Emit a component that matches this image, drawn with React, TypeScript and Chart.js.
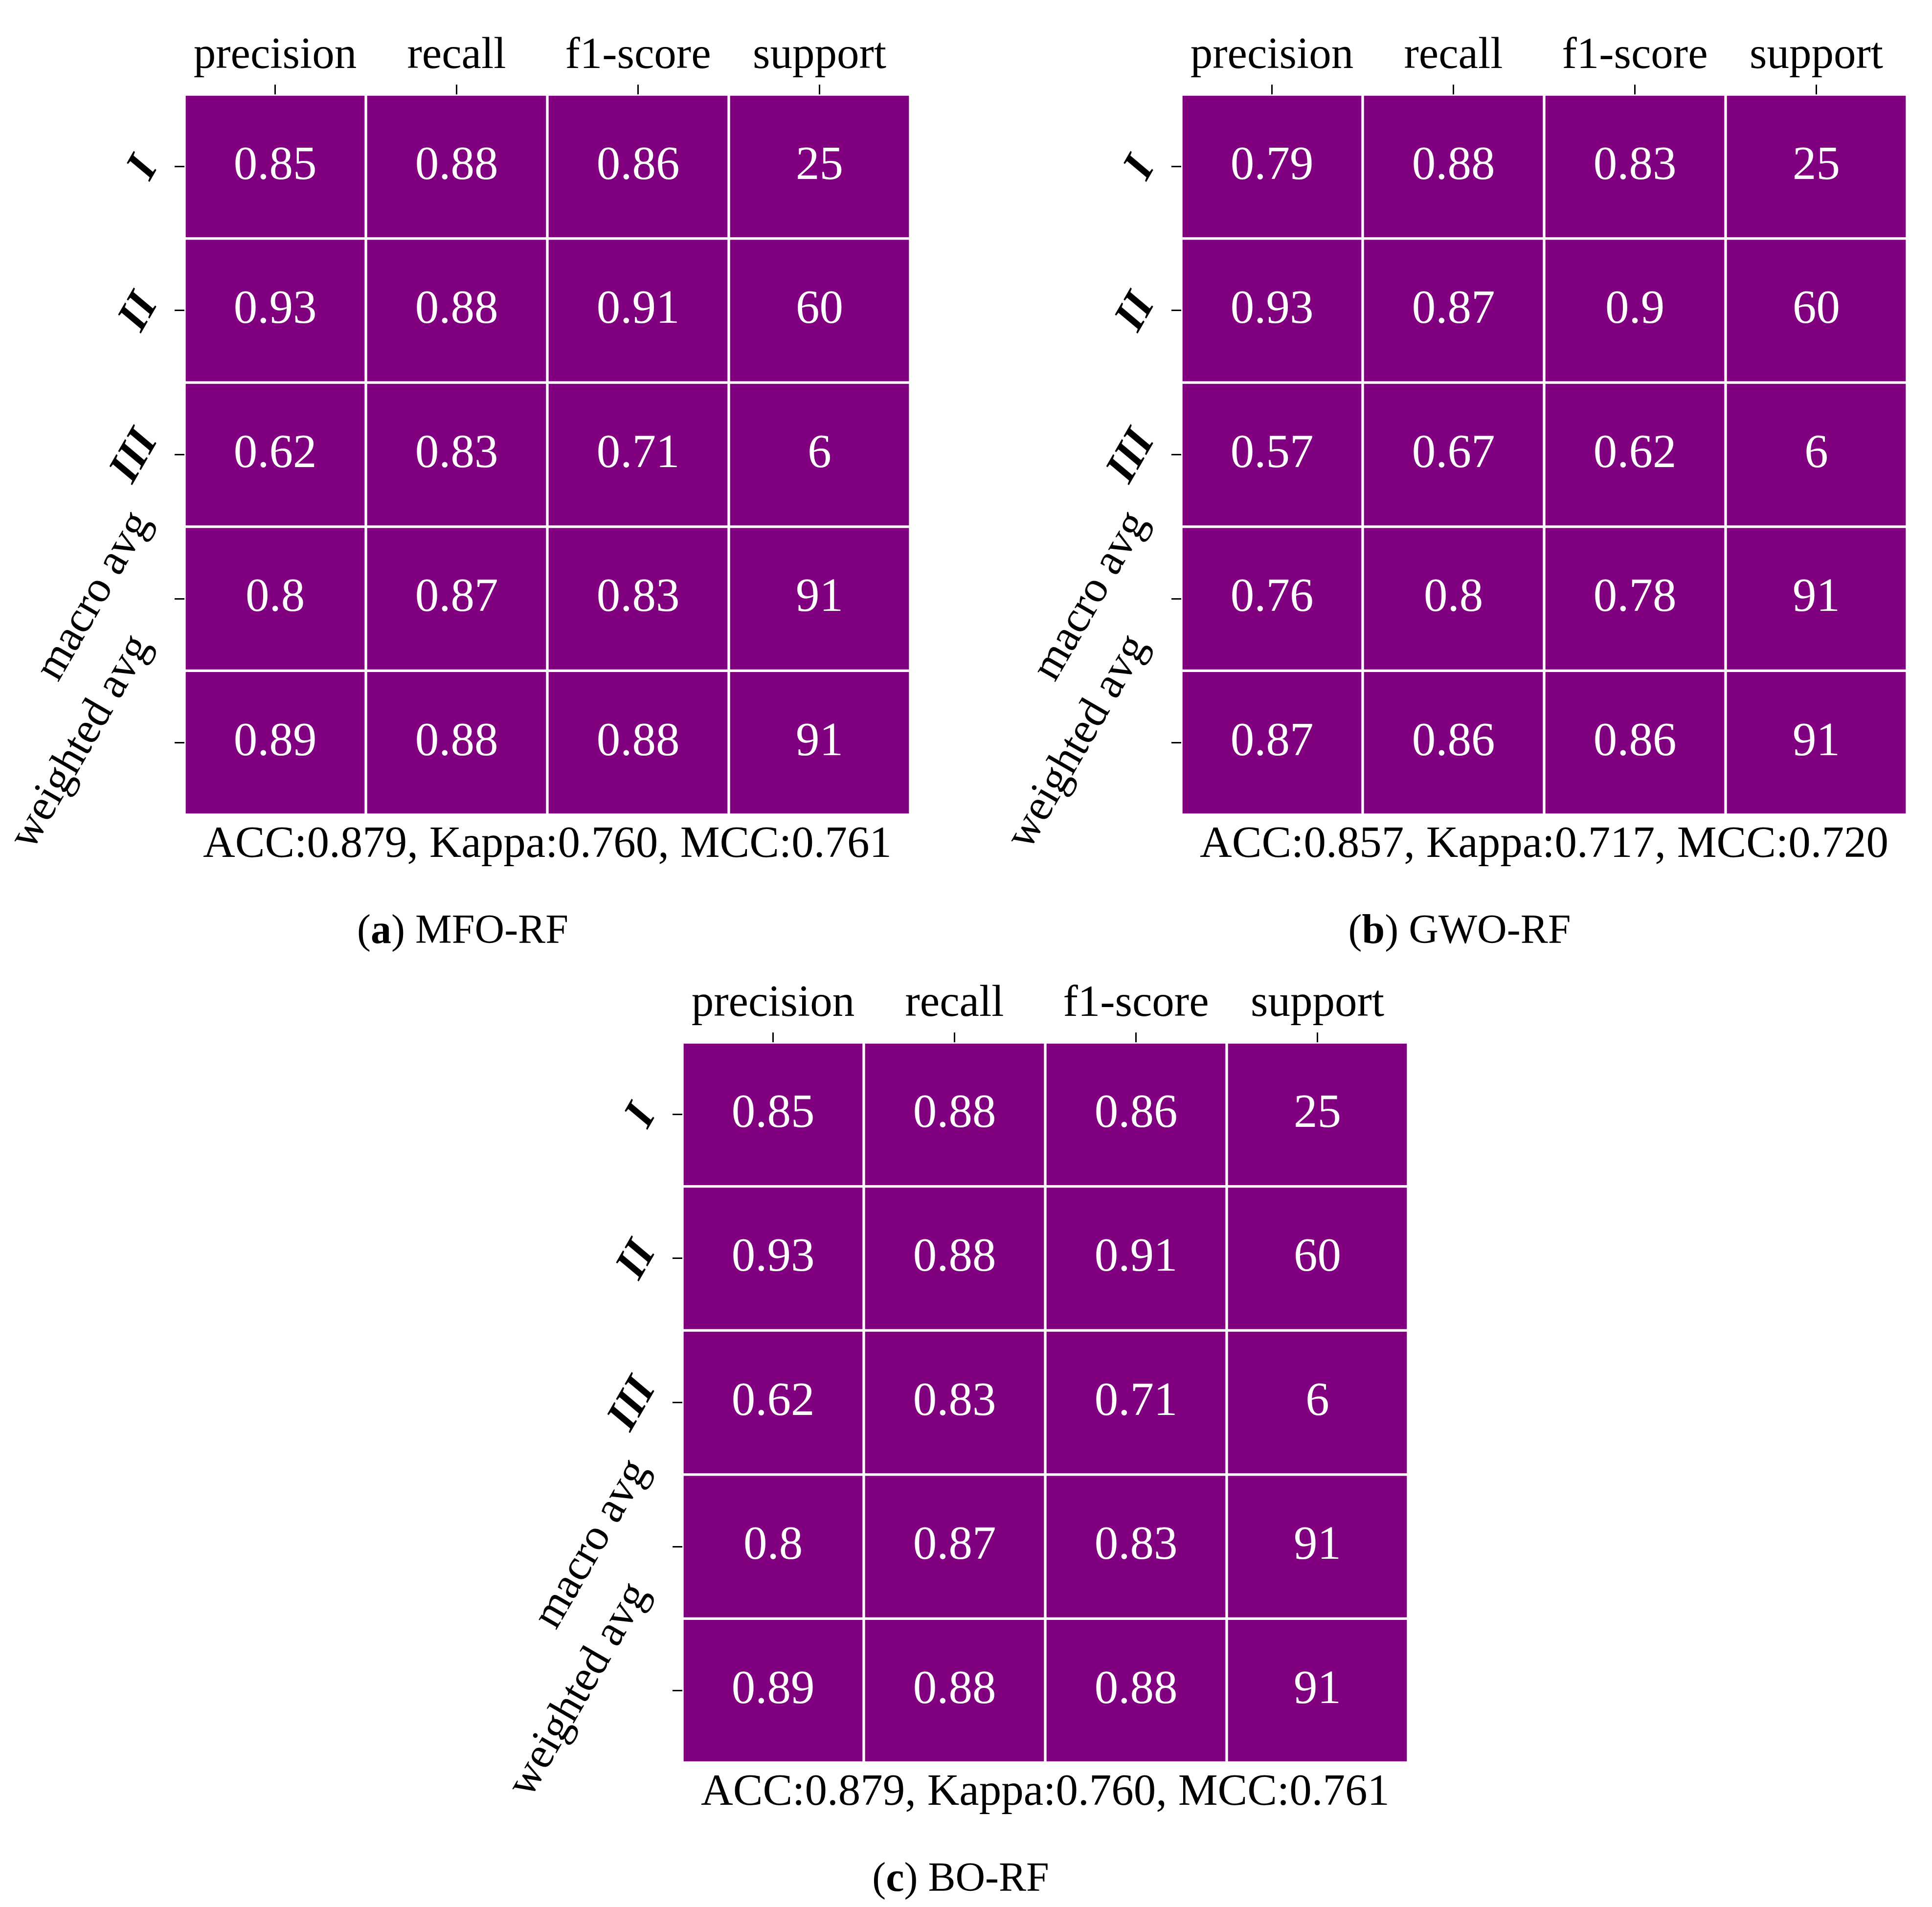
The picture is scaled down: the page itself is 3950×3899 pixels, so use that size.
import React, { useEffect, useRef } from 'react';
import { Chart, registerables } from 'chart.js';

Chart.register(...registerables);

// ---------- data ----------
const COLUMNS = ['precision', 'recall', 'f1-score', 'support'];
const ROWS = ['I', 'II', 'III', 'macro avg', 'weighted avg'];
const METRIC_NAMES = ['ACC', 'Kappa', 'MCC'];

// (a) MFO-RF
const MFO_I = [0.85, 0.88, 0.86, 25];
const MFO_II = [0.93, 0.88, 0.91, 60];
const MFO_III = [0.62, 0.83, 0.71, 6];
const MFO_MACRO = [0.8, 0.87, 0.83, 91];
const MFO_WEIGHTED = [0.89, 0.88, 0.88, 91];
const MFO_METRICS = [0.879, 0.76, 0.761];

// (b) GWO-RF
const GWO_I = [0.79, 0.88, 0.83, 25];
const GWO_II = [0.93, 0.87, 0.9, 60];
const GWO_III = [0.57, 0.67, 0.62, 6];
const GWO_MACRO = [0.76, 0.8, 0.78, 91];
const GWO_WEIGHTED = [0.87, 0.86, 0.86, 91];
const GWO_METRICS = [0.857, 0.717, 0.72];

// (c) BO-RF
const BO_I = [0.85, 0.88, 0.86, 25];
const BO_II = [0.93, 0.88, 0.91, 60];
const BO_III = [0.62, 0.83, 0.71, 6];
const BO_MACRO = [0.8, 0.87, 0.83, 91];
const BO_WEIGHTED = [0.89, 0.88, 0.88, 91];
const BO_METRICS = [0.879, 0.76, 0.761];

const PANEL_LETTERS = ['a', 'b', 'c'];
const PANEL_NAMES = ['MFO-RF', 'GWO-RF', 'BO-RF'];
const PANEL_ROWS = [
  [MFO_I, MFO_II, MFO_III, MFO_MACRO, MFO_WEIGHTED],
  [GWO_I, GWO_II, GWO_III, GWO_MACRO, GWO_WEIGHTED],
  [BO_I, BO_II, BO_III, BO_MACRO, BO_WEIGHTED],
];
const PANEL_METRICS = [MFO_METRICS, GWO_METRICS, BO_METRICS];

// ---------- layout / style ----------
const PANEL_POS = [
  { left: 0, top: 0 },
  { left: 2038, top: 0 },
  { left: 1018, top: 1938 },
];
const CANVAS_W = 1890;
const CANVAS_H = 1816;
const Y_AXIS_W = 377;
const X_AXIS_H = 193;
const PAD_RIGHT = 29;
const PAD_BOTTOM = 150;
const CELL_COLOR = '#800080';
const FONT = '"Liberation Serif", "Times New Roman", serif';
const LABEL_SIZE = 91;
const CELL_SIZE = 97;
const CAPTION_SIZE = 84;
const THETA = (60 * Math.PI) / 180;

const textPlugin = {
  id: 'heatText',
  afterDatasetsDraw(chart: any) {
    const ctx = chart.ctx;
    ctx.save();
    ctx.fillStyle = '#ffffff';
    ctx.font = `${CELL_SIZE}px ${FONT}`;
    ctx.textAlign = 'center';
    ctx.textBaseline = 'alphabetic';
    chart.data.datasets.forEach((ds: any, di: number) => {
      const meta = chart.getDatasetMeta(di);
      meta.data.forEach((el: any, j: number) => {
        const p = el.getProps(['x', 'y', 'base'], true);
        const cy = (p.y + p.base) / 2;
        ctx.fillText(String(ds.values[j]), p.x, cy + CELL_SIZE * 0.26);
      });
    });
    ctx.restore();
  },
  afterDraw(chart: any, _args: any, opts: any) {
    const ctx = chart.ctx;
    const area = chart.chartArea;
    const yScale = chart.scales.y;
    ctx.save();
    ctx.fillStyle = '#000000';
    // rotated row labels
    ROWS.forEach((lab, i) => {
      const ty = yScale.getPixelForValue(i + 0.5);
      const bold = i < 3;
      ctx.font = `${bold ? 'italic bold ' : ''}${LABEL_SIZE}px ${FONT}`;
      ctx.textAlign = 'left';
      ctx.textBaseline = 'alphabetic';
      const m = ctx.measureText(lab);
      const l = m.actualBoundingBoxLeft;
      const r = m.actualBoundingBoxRight;
      const a = m.actualBoundingBoxAscent;
      const d = m.actualBoundingBoxDescent;
      const w = l + r;
      const h = a + d;
      const halfW = (w / 2) * Math.cos(THETA) + (h / 2) * Math.sin(THETA);
      const cx = area.left - 52 - halfW;
      ctx.save();
      ctx.translate(cx, ty);
      ctx.rotate(-THETA);
      ctx.fillText(lab, -(r - l) / 2, (a - d) / 2);
      ctx.restore();
    });
    // metrics line under the grid
    const metrics: number[] = opts.metrics;
    const txt = METRIC_NAMES.map((n, k) => `${n}:${metrics[k].toFixed(3)}`).join(', ');
    ctx.font = `${LABEL_SIZE}px ${FONT}`;
    ctx.textAlign = 'center';
    ctx.textBaseline = 'alphabetic';
    ctx.fillText(txt, (area.left + area.right) / 2, area.bottom + 86);
    ctx.restore();
  },
};

function Panel({ index }: { index: number }) {
  const ref = useRef<HTMLCanvasElement | null>(null);
  useEffect(() => {
    const canvas = ref.current;
    if (!canvas) return;
    const rows = PANEL_ROWS[index];
    const chart = new Chart(canvas, {
      type: 'bar',
      data: {
        labels: COLUMNS,
        datasets: ROWS.map((r, i) => ({
          label: r,
          data: COLUMNS.map(() => [i, i + 1]),
          values: rows[i],
          backgroundColor: CELL_COLOR,
          borderColor: '#ffffff',
          borderWidth: 3,
          borderSkipped: false,
          grouped: false,
          barPercentage: 1,
          categoryPercentage: 1,
        })) as any,
      },
      options: {
        responsive: false,
        animation: false,
        devicePixelRatio: 1,
        events: [],
        layout: { padding: { left: 0, top: 0, right: PAD_RIGHT, bottom: PAD_BOTTOM } },
        plugins: {
          legend: { display: false },
          tooltip: { enabled: false },
          title: { display: false },
          heatText: { metrics: PANEL_METRICS[index] },
        } as any,
        scales: {
          x: {
            type: 'category',
            position: 'top',
            offset: true,
            border: { display: false },
            grid: {
              display: true,
              offset: false,
              drawOnChartArea: false,
              drawTicks: true,
              tickLength: 20,
              tickColor: '#000000',
              tickWidth: 3,
            },
            ticks: {
              color: '#000000',
              font: { family: FONT, size: LABEL_SIZE },
              padding: 3,
              maxRotation: 0,
              minRotation: 0,
              autoSkip: false,
            },
            afterFit: (s: any) => {
              s.height = X_AXIS_H;
            },
          },
          y: {
            type: 'linear',
            position: 'left',
            min: 0,
            max: ROWS.length,
            reverse: true,
            border: { display: false },
            grid: {
              display: true,
              drawOnChartArea: false,
              drawTicks: true,
              tickLength: 20,
              tickColor: '#000000',
              tickWidth: 3,
            },
            ticks: { display: false },
            afterBuildTicks: (s: any) => {
              s.ticks = ROWS.map((_, i) => ({ value: i + 0.5 }));
            },
            afterFit: (s: any) => {
              s.width = Y_AXIS_W;
            },
          },
        },
      } as any,
      plugins: [textPlugin],
    });
    return () => chart.destroy();
  }, [index]);

  const pos = PANEL_POS[index];
  const chartCenter = pos.left + Y_AXIS_W + (CANVAS_W - Y_AXIS_W - PAD_RIGHT) / 2;
  const captionCenter = chartCenter - 173;
  const captionBaseline = pos.top + CANVAS_H - PAD_BOTTOM + 262;
  return (
    <>
      <canvas
        ref={ref}
        width={CANVAS_W}
        height={CANVAS_H}
        style={{ position: 'absolute', left: pos.left, top: pos.top, width: CANVAS_W, height: CANVAS_H }}
      />
      <div
        style={{
          position: 'absolute',
          left: captionCenter - 600,
          width: 1200,
          top: captionBaseline - 70,
          textAlign: 'center',
          fontFamily: FONT,
          fontSize: CAPTION_SIZE,
          lineHeight: `${CAPTION_SIZE}px`,
          color: '#000',
          whiteSpace: 'nowrap',
        }}
      >
        (<b>{PANEL_LETTERS[index]}</b>) {PANEL_NAMES[index]}
      </div>
    </>
  );
}

export default function App() {
  return (
    <div
      style={{
        position: 'absolute',
        left: 0,
        top: 0,
        width: 3950,
        height: 3899,
        background: '#ffffff',
        overflow: 'hidden',
      }}
    >
      {PANEL_NAMES.map((_, i) => (
        <Panel key={i} index={i} />
      ))}
    </div>
  );
}
